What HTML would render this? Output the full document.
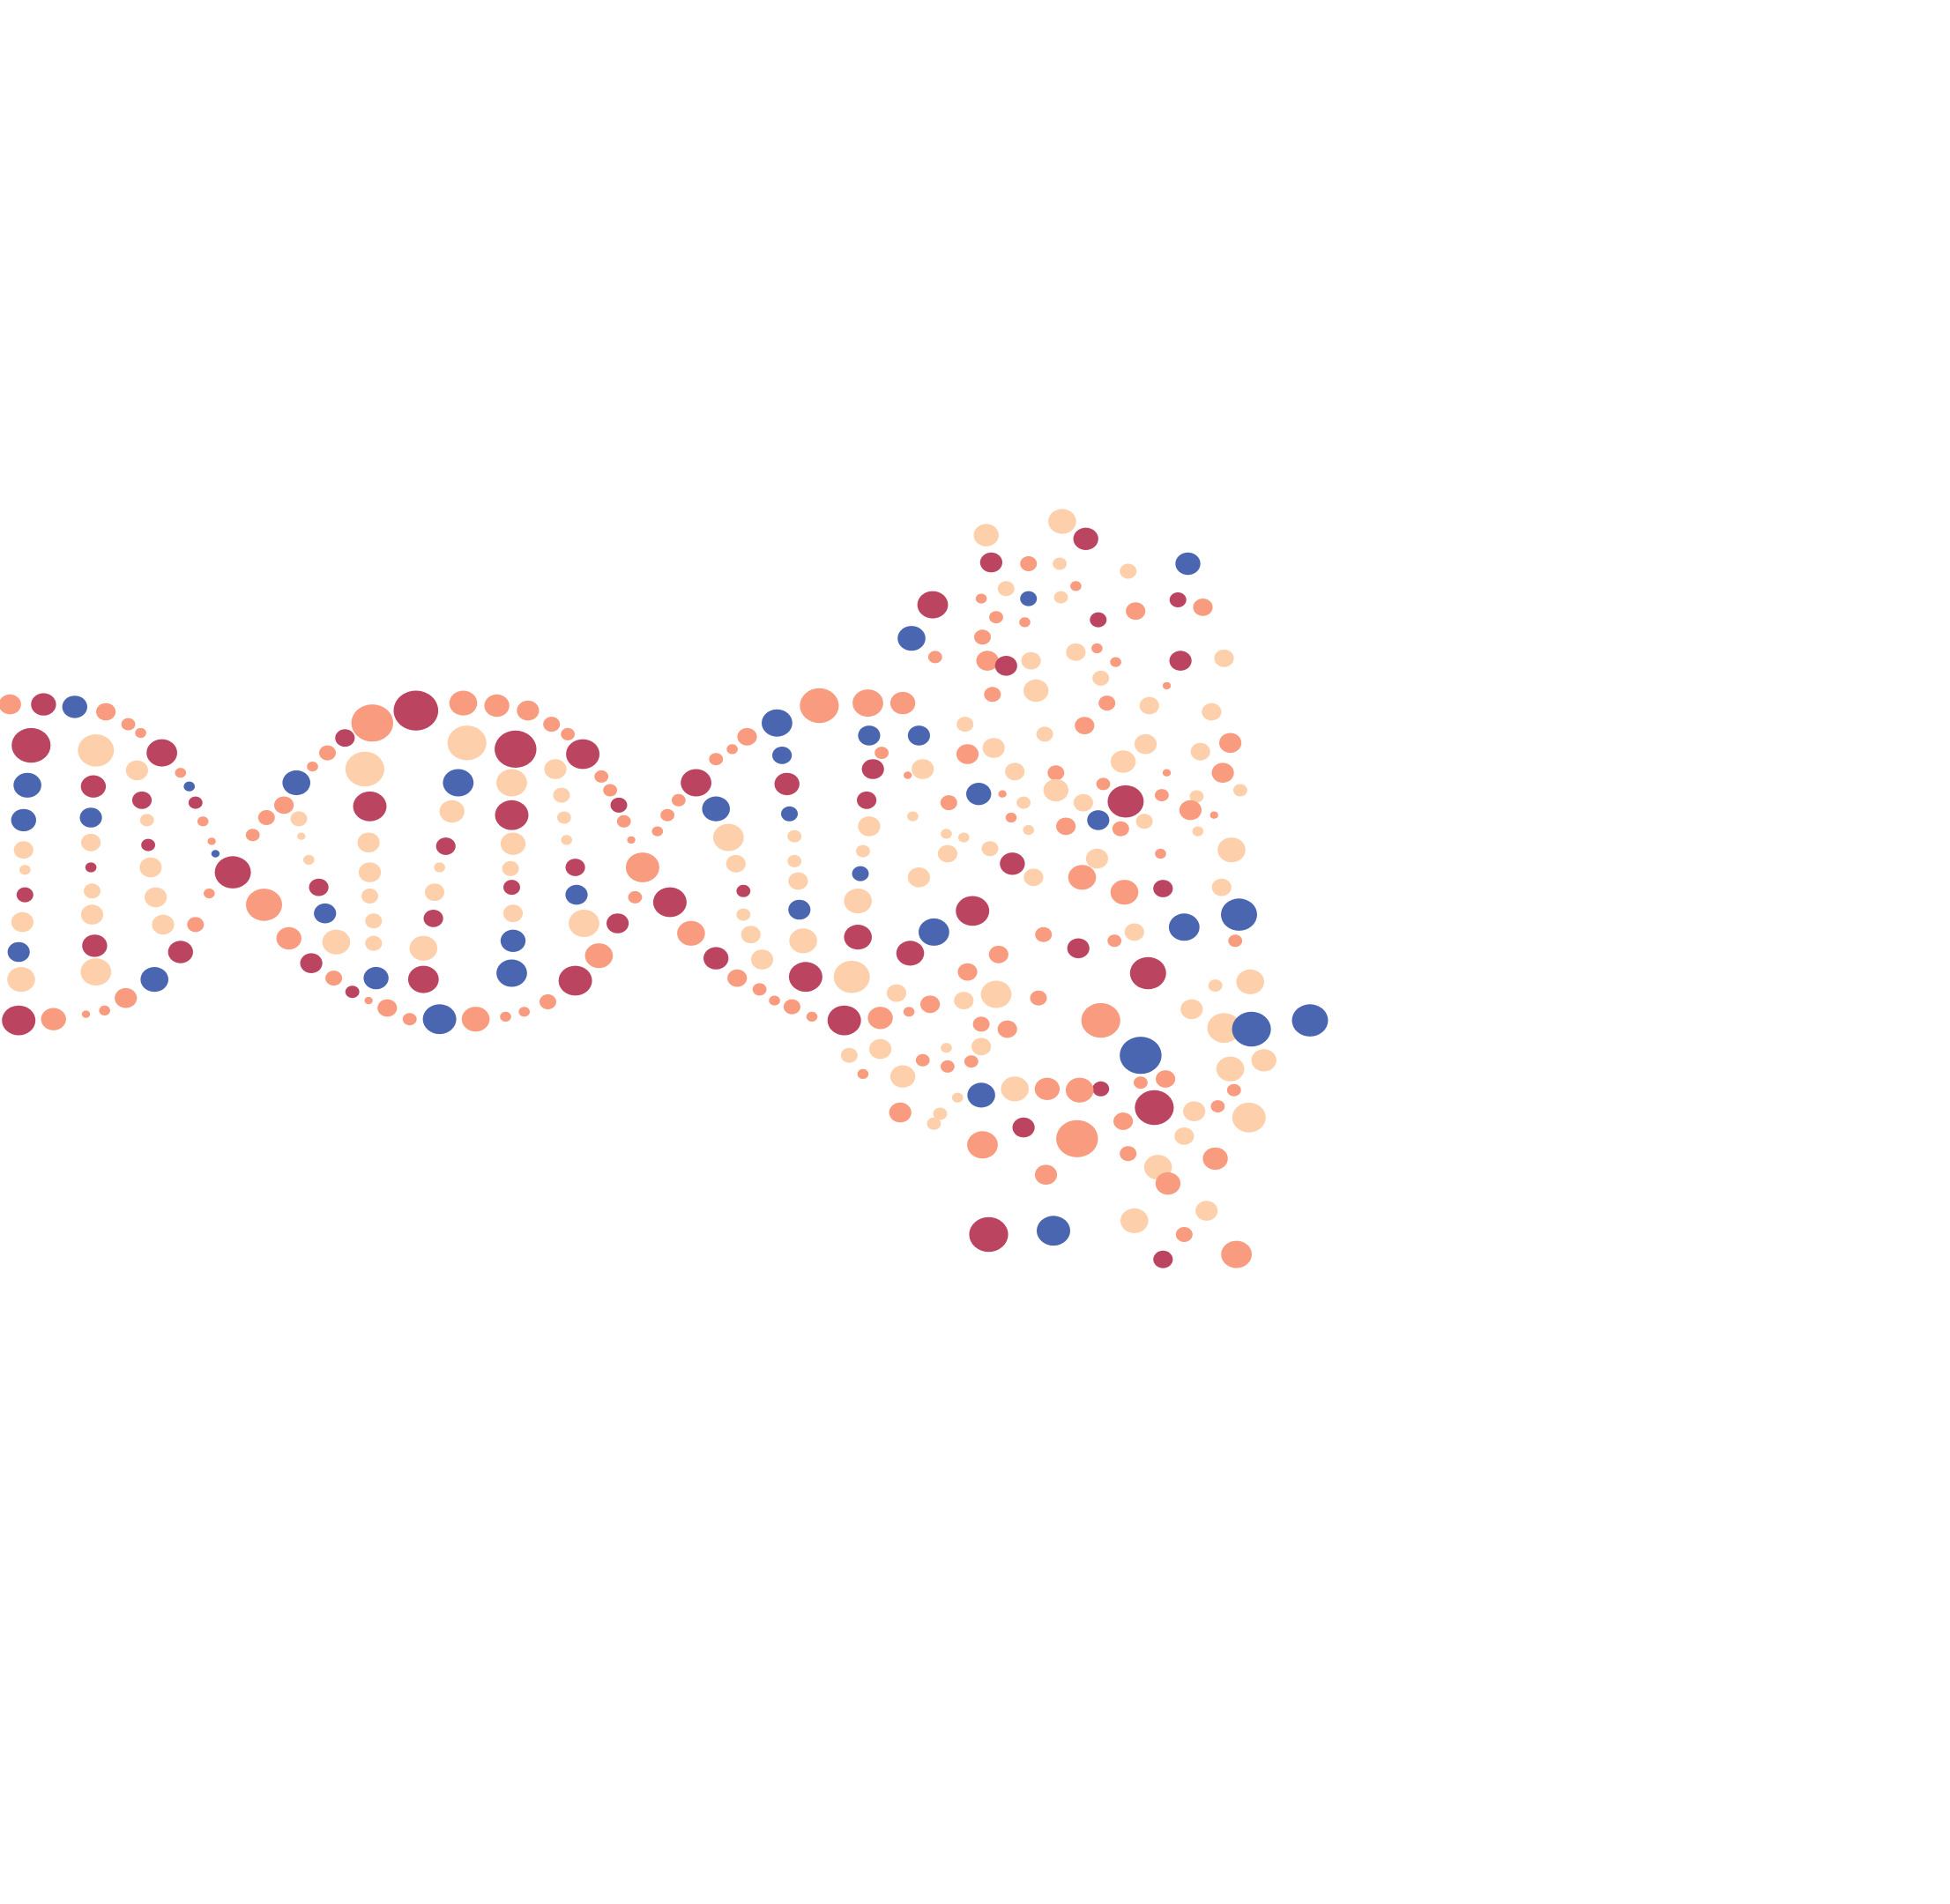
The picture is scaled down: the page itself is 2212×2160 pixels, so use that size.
<!DOCTYPE html>
<html><head><meta charset="utf-8"><style>
html,body{margin:0;padding:0;background:#fff;}
svg{display:block;}
</style></head><body>
<svg id="chart" width="2212" height="2160" viewBox="0 0 2212 2160" xmlns="http://www.w3.org/2000/svg">
<rect x="0" y="0" width="2212" height="2160" fill="#ffffff"/>
<g id="marks"></g>
</svg>
<script>
const categories = ["R","B","S","P"];
const palette = {R:"#bb4561",B:"#4a66b1",S:"#f89b7f",P:"#fdd0ab"};
// [x, y, size, category] in data units
const points = [
[8,566,8,"S"],[35,566,9,"R"],[60,568,9,"B"],[85,572,7,"S"],[103,582,5,"S"],[113,589,4,"S"],
[25,599,14,"R"],[77,603,13,"P"],[130,605,11,"R"],[110,619,8,"P"],[145,621,4,"S"],[152,632,4,"B"],[157,645,5,"R"],[163,660,4,"S"],[170,676,3,"S"],[173,686,3,"B"],
[22,631,10,"B"],[75,632,9,"R"],[114,643,7,"R"],[19,659,9,"B"],[73,657,8,"B"],[118,659,5,"P"],
[19,683,7,"P"],[73,677,7,"P"],[119,679,5,"R"],[20,699,4,"P"],[73,697,4,"R"],[121,697,8,"P"],
[20,719,6,"R"],[74,716,6,"P"],[125,721,8,"P"],[18,741,8,"P"],[74,735,8,"P"],[131,743,8,"P"],[157,743,6,"S"],[168,718,4,"S"],
[15,765,8,"B"],[76,760,9,"R"],[145,765,9,"R"],[17,787,10,"P"],[77,781,11,"P"],[124,787,10,"B"],
[101,802,8,"S"],[84,812,4,"S"],[69,815,3,"S"],[43,819,9,"S"],[15,820,12,"R"],
[187,701,13,"R"],[203,671,5,"S"],[212,727,13,"S"],[232,754,9,"S"],[250,774,8,"R"],[268,786,6,"S"],[283,797,5,"R"],[296,804,3,"S"],[311,810,7,"S"],[329,819,5,"S"],[353,819,12,"B"],[382,819,10,"S"],[406,817,4,"S"],[421,813,4,"S"],[440,805,6,"S"],[462,788,12,"R"],[481,768,10,"S"],[496,742,8,"R"],[510,721,5,"S"],[516,697,12,"S"],[507,675,3,"S"],[501,660,5,"S"],[497,647,6,"R"],[490,635,5,"S"],[483,624,5,"S"],[468,606,12,"R"],[456,590,5,"S"],[443,582,6,"S"],[424,571,8,"S"],[399,567,9,"S"],[372,565,10,"S"],[334,571,16,"R"],[299,581,15,"S"],[277,593,7,"R"],[263,605,6,"S"],[251,616,4,"S"],[228,647,7,"S"],[214,657,6,"S"],
[238,629,10,"B"],[240,658,6,"P"],[242,672,3,"P"],[248,691,4,"P"],[256,713,7,"R"],[261,734,8,"B"],[270,757,10,"P"],[302,786,9,"B"],[293,618,14,"P"],[297,648,12,"R"],[296,677,8,"P"],[297,701,8,"P"],[297,720,6,"P"],[300,740,6,"P"],[300,758,6,"P"],[340,787,11,"R"],[340,762,10,"P"],[348,738,7,"R"],[349,717,7,"P"],[353,697,4,"P"],[358,680,7,"R"],[363,652,9,"P"],[368,629,11,"B"],[375,597,14,"P"],[414,602,15,"R"],[411,629,11,"P"],[411,655,12,"R"],[412,678,9,"P"],[410,698,6,"P"],[411,713,6,"R"],[412,734,7,"P"],[412,756,9,"B"],[411,782,11,"B"],[446,618,8,"P"],[451,639,6,"P"],[453,657,5,"P"],[455,675,4,"P"],[462,697,7,"R"],[463,719,8,"B"],[469,742,11,"P"],
[538,725,12,"R"],[555,750,10,"S"],[575,770,9,"R"],[592,786,7,"S"],[610,795,5,"S"],[622,804,4,"S"],[636,809,6,"S"],[652,817,4,"S"],[678,820,12,"R"],[707,818,9,"S"],[730,813,4,"S"],[747,807,7,"S"],[720,798,7,"P"],[528,668,4,"S"],[536,655,5,"S"],[545,643,5,"S"],[559,629,11,"R"],[575,610,5,"S"],[588,602,4,"S"],[600,592,7,"S"],[624,581,11,"B"],[658,567,14,"S"],[697,565,11,"S"],[725,565,9,"S"],
[575,650,10,"B"],[585,673,11,"P"],[591,694,7,"P"],[597,716,5,"R"],[597,735,5,"P"],[603,751,7,"P"],[612,771,8,"P"],[647,785,12,"R"],[684,785,13,"P"],[628,607,7,"B"],[632,630,9,"R"],[634,654,6,"B"],[638,672,5,"P"],[638,692,5,"P"],[641,708,7,"P"],[642,731,8,"B"],[645,756,10,"P"],[689,753,10,"R"],[689,724,10,"P"],[691,702,6,"B"],[693,684,5,"P"],[698,664,8,"P"],[696,643,7,"R"],[701,618,8,"R"],[698,591,8,"B"],[708,605,5,"S"],[738,591,8,"B"],
[792,430,9,"P"],[853,419,10,"P"],[872,433,9,"R"],[796,452,8,"R"],[826,453,6,"S"],[851,453,5,"P"],[906,459,6,"P"],[954,453,9,"B"],[808,473,6,"P"],[864,471,4,"S"],[826,481,6,"B"],[852,480,5,"P"],[749,486,11,"R"],[788,481,4,"S"],[800,496,5,"S"],[823,500,4,"S"],[882,498,6,"R"],[912,491,7,"S"],[946,482,6,"R"],[966,488,7,"S"],[732,513,10,"B"],[789,512,6,"S"],[751,528,5,"S"],[793,531,8,"S"],[808,535,8,"R"],[828,531,7,"P"],[864,524,7,"P"],[881,521,4,"S"],[896,532,4,"S"],[884,545,6,"P"],[937,551,3,"S"],[948,531,8,"R"],[983,529,7,"P"],[797,558,6,"S"],[832,555,9,"P"],[889,565,6,"S"],[923,567,7,"P"],[973,572,7,"P"],[775,582,6,"P"],[839,590,6,"P"],[871,583,7,"S"],[988,597,8,"S"],[920,598,8,"P"],[798,601,8,"P"],[964,604,7,"P"],[777,606,8,"S"],[902,612,9,"P"],[815,620,7,"P"],[848,621,6,"S"],[741,618,8,"P"],[729,623,3,"S"],[982,621,8,"S"],[937,621,3,"S"],[886,630,5,"S"],[996,635,5,"P"],[786,638,9,"B"],[805,638,3,"S"],[822,645,5,"P"],[848,635,9,"P"],[870,645,7,"P"],[904,644,13,"R"],[933,639,5,"S"],[961,640,5,"P"],[762,645,6,"S"],[733,656,4,"P"],[812,657,4,"S"],[882,659,8,"B"],[956,651,8,"S"],[919,660,6,"P"],[975,655,3,"S"],[856,664,7,"S"],[900,666,6,"S"],[826,667,4,"P"],[760,670,4,"P"],[774,673,4,"P"],[795,682,6,"P"],[962,668,4,"P"],[989,683,10,"P"],[932,686,4,"S"],[761,686,7,"P"],[813,694,9,"R"],[881,690,8,"P"],[738,705,8,"P"],[830,705,7,"P"],[869,705,10,"S"],[981,713,7,"P"],[903,717,10,"S"],[934,714,7,"R"],[781,732,12,"R"],[995,735,13,"B"],[750,749,11,"B"],[838,751,6,"S"],[866,762,8,"R"],[951,745,11,"B"],[911,749,7,"P"],[895,756,5,"S"],[992,756,5,"S"],[731,766,10,"R"],[802,767,7,"S"],[777,781,7,"S"],[922,782,13,"R"],[976,792,5,"P"],[1004,789,10,"P"],[800,799,11,"P"],[774,804,7,"P"],[834,802,6,"S"],[957,811,8,"P"],[1052,820,13,"B"],[884,820,14,"S"],[983,826,12,"P"],[1005,827,14,"B"],[788,823,6,"S"],[809,827,7,"S"],[682,848,6,"P"],[707,843,8,"P"],[788,841,7,"P"],[760,842,4,"P"],[916,848,15,"B"],[1015,852,9,"P"],[741,852,5,"S"],[761,857,5,"S"],[780,853,5,"S"],[693,863,4,"S"],[725,865,9,"P"],[988,859,10,"P"],[936,867,7,"S"],[916,870,5,"S"],[884,875,6,"R"],[815,875,10,"P"],[841,875,9,"S"],[867,876,10,"S"],[991,876,5,"S"],[788,880,10,"B"],[769,882,4,"P"],[978,889,5,"S"],[927,890,14,"R"],[959,893,8,"P"],[1003,898,12,"P"],[723,894,8,"S"],[755,895,5,"P"],[750,903,5,"P"],[902,901,7,"S"],[822,906,8,"R"],[865,915,15,"S"],[951,913,7,"P"],[789,920,11,"S"],[906,927,6,"S"],[976,931,9,"S"],[930,938,10,"P"],[840,944,8,"S"],[938,951,9,"S"],[969,973,8,"P"],[911,981,10,"P"],[794,992,14,"R"],[846,989,12,"B"],[951,992,6,"S"],[993,1008,11,"S"],[934,1012,7,"R"]
];
const xDomain = [0, 1566];
const yDomain = [0, 1530];
function sx(v){ return v / xDomain[1] * 2212; }
function sy(v){ return v / yDomain[1] * 2160; }
function sr(v){ return v * 1.41; }
const g = document.getElementById('marks');
const NS = 'http://www.w3.org/2000/svg';
points.forEach(function(p, i){
  const e = document.createElementNS(NS, 'ellipse');
  e.setAttribute('cx', sx(p[0]).toFixed(1));
  e.setAttribute('cy', sy(p[1]).toFixed(1));
  e.setAttribute('rx', (sr(p[2]) * 1.12).toFixed(1));
  e.setAttribute('ry', sr(p[2]).toFixed(1));
  e.setAttribute('fill', palette[p[3]]);
  
  
  g.appendChild(e);
});
</script>
</body></html>
